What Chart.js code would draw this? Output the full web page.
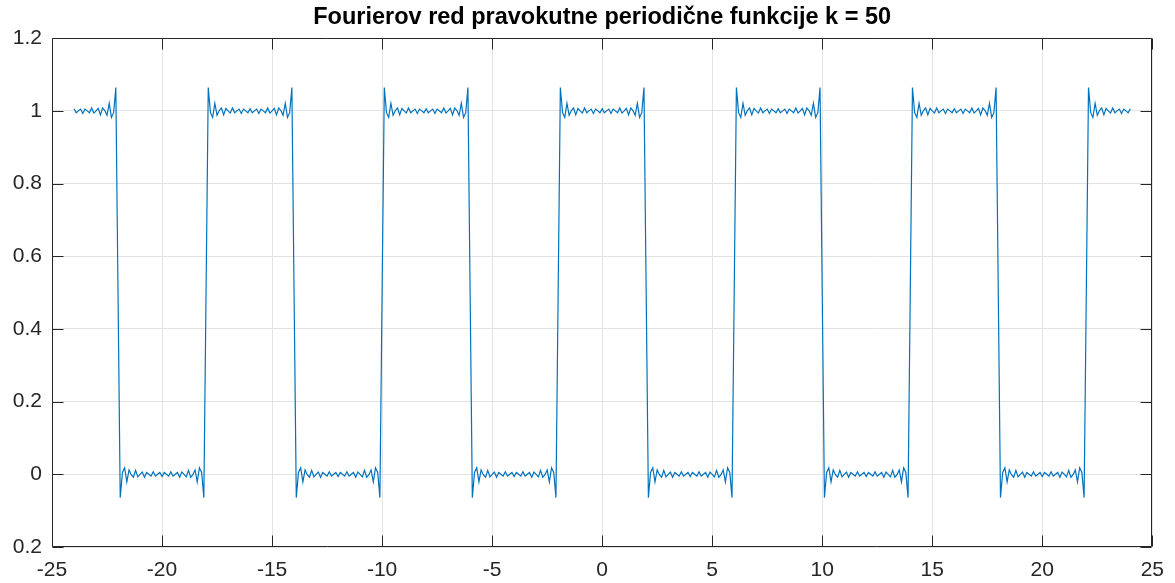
<!DOCTYPE html>
<html>
<head>
<meta charset="utf-8">
<script src="https://cdn.jsdelivr.net/npm/chart.js@4.4.1/dist/chart.umd.min.js"></script>
<style>
  html, body { margin: 0; padding: 0; background: #ffffff; }
  #wrap { width: 1175px; height: 583px; }
</style>
</head>
<body>
<div id="wrap"><canvas id="c" width="1175" height="583"></canvas></div>
<script>
// ---- data (sample grid x = -24 : 0.1 : 24) ----
const titleText = 'Fourierov red pravokutne periodične funkcije k = 50';
const xStart = -24;
const xStep = 0.1;
const ys = [
  1.006,0.995,1,1.005,0.993,1.005,1,0.995,1.008,0.994,1,1.007,0.989,1.008,1.001,0.988,1.021,0.982,0.995,1.064,0.5,
  -0.064,0.005,0.018,-0.021,0.012,-0.001,-0.008,0.011,-0.007,0,0.006,-0.008,0.005,0,-0.005,0.007,-0.005,0,0.005,-0.006,
  0.005,0,-0.005,0.007,-0.005,0,0.005,-0.008,0.006,0,-0.007,0.011,-0.008,-0.001,0.012,-0.021,0.018,0.005,-0.064,0.5,
  1.064,0.995,0.982,1.021,0.988,1.001,1.008,0.989,1.007,1,0.994,1.008,0.995,1,1.005,0.993,1.005,1,0.995,

  1.006,0.995,1,1.005,0.993,1.005,1,0.995,1.008,0.994,1,1.007,0.989,1.008,1.001,0.988,1.021,0.982,0.995,1.064,0.5,
  -0.064,0.005,0.018,-0.021,0.012,-0.001,-0.008,0.011,-0.007,0,0.006,-0.008,0.005,0,-0.005,0.007,-0.005,0,0.005,-0.006,
  0.005,0,-0.005,0.007,-0.005,0,0.005,-0.008,0.006,0,-0.007,0.011,-0.008,-0.001,0.012,-0.021,0.018,0.005,-0.064,0.5,
  1.064,0.995,0.982,1.021,0.988,1.001,1.008,0.989,1.007,1,0.994,1.008,0.995,1,1.005,0.993,1.005,1,0.995,

  1.006,0.995,1,1.005,0.993,1.005,1,0.995,1.008,0.994,1,1.007,0.989,1.008,1.001,0.988,1.021,0.982,0.995,1.064,0.5,
  -0.064,0.005,0.018,-0.021,0.012,-0.001,-0.008,0.011,-0.007,0,0.006,-0.008,0.005,0,-0.005,0.007,-0.005,0,0.005,-0.006,
  0.005,0,-0.005,0.007,-0.005,0,0.005,-0.008,0.006,0,-0.007,0.011,-0.008,-0.001,0.012,-0.021,0.018,0.005,-0.064,0.5,
  1.064,0.995,0.982,1.021,0.988,1.001,1.008,0.989,1.007,1,0.994,1.008,0.995,1,1.005,0.993,1.005,1,0.995,

  1.006,0.995,1,1.005,0.993,1.005,1,0.995,1.008,0.994,1,1.007,0.989,1.008,1.001,0.988,1.021,0.982,0.995,1.064,0.5,
  -0.064,0.005,0.018,-0.021,0.012,-0.001,-0.008,0.011,-0.007,0,0.006,-0.008,0.005,0,-0.005,0.007,-0.005,0,0.005,-0.006,
  0.005,0,-0.005,0.007,-0.005,0,0.005,-0.008,0.006,0,-0.007,0.011,-0.008,-0.001,0.012,-0.021,0.018,0.005,-0.064,0.5,
  1.064,0.995,0.982,1.021,0.988,1.001,1.008,0.989,1.007,1,0.994,1.008,0.995,1,1.005,0.993,1.005,1,0.995,

  1.006,0.995,1,1.005,0.993,1.005,1,0.995,1.008,0.994,1,1.007,0.989,1.008,1.001,0.988,1.021,0.982,0.995,1.064,0.5,
  -0.064,0.005,0.018,-0.021,0.012,-0.001,-0.008,0.011,-0.007,0,0.006,-0.008,0.005,0,-0.005,0.007,-0.005,0,0.005,-0.006,
  0.005,0,-0.005,0.007,-0.005,0,0.005,-0.008,0.006,0,-0.007,0.011,-0.008,-0.001,0.012,-0.021,0.018,0.005,-0.064,0.5,
  1.064,0.995,0.982,1.021,0.988,1.001,1.008,0.989,1.007,1,0.994,1.008,0.995,1,1.005,0.993,1.005,1,0.995,

  1.006,0.995,1,1.005,0.993,1.005,1,0.995,1.008,0.994,1,1.007,0.989,1.008,1.001,0.988,1.021,0.982,0.995,1.064,0.5,
  -0.064,0.005,0.018,-0.021,0.012,-0.001,-0.008,0.011,-0.007,0,0.006,-0.008,0.005,0,-0.005,0.007,-0.005,0,0.005,-0.006,
  0.005,0,-0.005,0.007,-0.005,0,0.005,-0.008,0.006,0,-0.007,0.011,-0.008,-0.001,0.012,-0.021,0.018,0.005,-0.064,0.5,
  1.064,0.995,0.982,1.021,0.988,1.001,1.008,0.989,1.007,1,0.994,1.008,0.995,1,1.005,0.993,1.005,1,0.995,

  1.006
];
const xTicks = [-25, -20, -15, -10, -5, 0, 5, 10, 15, 20, 25];
const xTickLabels = ['-25', '-20', '-15', '-10', '-5', '0', '5', '10', '15', '20', '25'];
const yTicks = [-0.2, 0, 0.2, 0.4, 0.6, 0.8, 1, 1.2];
const yTickLabels = ['0.2', '0', '0.2', '0.4', '0.6', '0.8', '1', '1.2'];

// ---- chart ----
const points = ys.map((y, i) => ({ x: xStart + i * xStep, y: y }));
const FONT = "'Liberation Sans', Arial, Helvetica, sans-serif";
const AXIS_COLOR = '#262626';
const TICK_LEN = 11;

const matlabAxes = {
  id: 'matlabAxes',
  afterDatasetsDraw(chart) {
    const { ctx, chartArea: a, scales } = chart;
    const L = Math.round(a.left) + 0.5, R = Math.round(a.right) - 0.5;
    const T = Math.round(a.top) + 0.5, B = Math.round(a.bottom) - 0.5;
    ctx.save();
    ctx.strokeStyle = AXIS_COLOR;
    ctx.lineWidth = 1;
    ctx.beginPath();
    ctx.rect(L, T, R - L, B - T);
    xTicks.forEach(v => {
      const px = Math.round(scales.x.getPixelForValue(v)) + 0.5;
      ctx.moveTo(px, B); ctx.lineTo(px, B - TICK_LEN);
      ctx.moveTo(px, T); ctx.lineTo(px, T + TICK_LEN);
    });
    yTicks.forEach(v => {
      const py = Math.round(scales.y.getPixelForValue(v)) + 0.5;
      ctx.moveTo(L, py); ctx.lineTo(L + TICK_LEN, py);
      ctx.moveTo(R, py); ctx.lineTo(R - TICK_LEN, py);
    });
    ctx.stroke();
    ctx.restore();
  }
};

new Chart(document.getElementById('c'), {
  type: 'line',
  data: {
    datasets: [{
      data: points,
      borderColor: '#0072BD',
      borderWidth: 1.2,
      pointRadius: 0,
      pointHoverRadius: 0,
      tension: 0,
      fill: false
    }]
  },
  options: {
    responsive: false,
    devicePixelRatio: 1,
    animation: false,
    events: [],
    layout: { padding: { left: 0, right: 22, top: 0, bottom: 0 } },
    plugins: {
      legend: { display: false },
      tooltip: { enabled: false },
      title: {
        display: true,
        fullSize: false,
        text: titleText,
        color: '#000000',
        font: { family: FONT, size: 23.5, weight: 'bold' },
        padding: { top: 3, bottom: 7 }
      }
    },
    scales: {
      x: {
        type: 'linear',
        min: -25,
        max: 25,
        afterBuildTicks: s => { s.ticks = xTicks.map(v => ({ value: v })); },
        afterFit: s => { s.height = 36; },
        ticks: {
          color: AXIS_COLOR,
          font: { family: FONT, size: 21 },
          padding: 11,
          maxRotation: 0,
          autoSkip: false,
          callback: (v, i) => xTickLabels[i]
        },
        grid: { color: '#e3e3e3', lineWidth: 1, drawTicks: false },
        border: { display: false }
      },
      y: {
        type: 'linear',
        min: -0.2,
        max: 1.2,
        afterBuildTicks: s => { s.ticks = yTicks.map(v => ({ value: v })); },
        afterFit: s => { s.width = 52; },
        ticks: {
          color: AXIS_COLOR,
          font: { family: FONT, size: 21 },
          padding: 10,
          autoSkip: false,
          callback: (v, i) => yTickLabels[i]
        },
        grid: { color: '#e3e3e3', lineWidth: 1, drawTicks: false },
        border: { display: false }
      }
    }
  },
  plugins: [matlabAxes]
});
</script>
</body>
</html>
